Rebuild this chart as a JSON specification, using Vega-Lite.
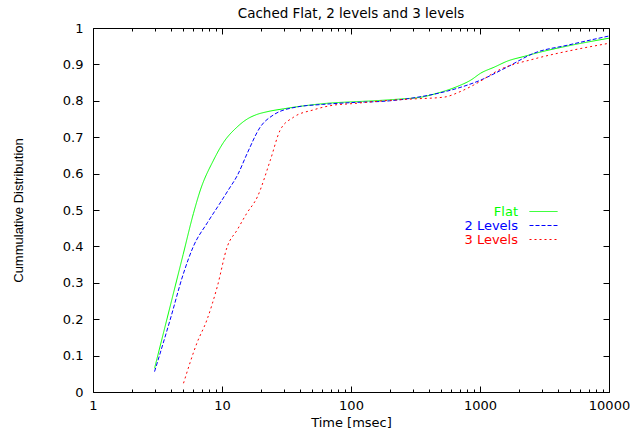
{
  "$schema": "https://vega.github.io/schema/vega-lite/v6.json",
  "width": 516,
  "height": 364,
  "autosize": {"type": "none"},
  "padding": {"left": 93, "top": 28, "right": 21, "bottom": 38},
  "background": "white",
  "config": {
    "view": {"stroke": "black", "strokeWidth": 1},
    "font": "DejaVu Sans",
    "axis": {
      "domain": false,
      "grid": false,
      "labelFont": "DejaVu Sans",
      "labelFontSize": 13,
      "labelColor": "black",
      "tickColor": "black",
      "tickWidth": 1,
      "titleFont": "DejaVu Sans",
      "titleFontSize": 13,
      "titleFontWeight": "normal",
      "titleColor": "black"
    }
  },
  "title": {
    "text": "Cached Flat, 2 levels and 3 levels",
    "font": "DejaVu Sans",
    "fontSize": 13.5,
    "fontWeight": "normal",
    "color": "black",
    "offset": -9,
    "baseline": "alphabetic"
  },
  "data": {
    "values": [
      {"t": 3, "p": 0.065, "s": "Flat"},
      {"t": 4, "p": 0.241, "s": "Flat"},
      {"t": 5, "p": 0.378, "s": "Flat"},
      {"t": 6, "p": 0.49, "s": "Flat"},
      {"t": 6.8, "p": 0.555, "s": "Flat"},
      {"t": 8.6, "p": 0.637, "s": "Flat"},
      {"t": 10.2, "p": 0.684, "s": "Flat"},
      {"t": 13.1, "p": 0.728, "s": "Flat"},
      {"t": 15.7, "p": 0.75, "s": "Flat"},
      {"t": 18.5, "p": 0.762, "s": "Flat"},
      {"t": 22.4, "p": 0.77, "s": "Flat"},
      {"t": 30, "p": 0.778, "s": "Flat"},
      {"t": 45, "p": 0.787, "s": "Flat"},
      {"t": 70, "p": 0.794, "s": "Flat"},
      {"t": 100, "p": 0.797, "s": "Flat"},
      {"t": 150, "p": 0.8, "s": "Flat"},
      {"t": 243, "p": 0.805, "s": "Flat"},
      {"t": 350, "p": 0.81, "s": "Flat"},
      {"t": 468, "p": 0.821, "s": "Flat"},
      {"t": 674, "p": 0.84, "s": "Flat"},
      {"t": 850, "p": 0.857, "s": "Flat"},
      {"t": 1014, "p": 0.876, "s": "Flat"},
      {"t": 1300, "p": 0.893, "s": "Flat"},
      {"t": 1630, "p": 0.909, "s": "Flat"},
      {"t": 2200, "p": 0.922, "s": "Flat"},
      {"t": 2950, "p": 0.934, "s": "Flat"},
      {"t": 5000, "p": 0.952, "s": "Flat"},
      {"t": 10000, "p": 0.972, "s": "Flat"},
      {"t": 3, "p": 0.056, "s": "2 Levels"},
      {"t": 3.96, "p": 0.198, "s": "2 Levels"},
      {"t": 5.03, "p": 0.326, "s": "2 Levels"},
      {"t": 6, "p": 0.4, "s": "2 Levels"},
      {"t": 7.7, "p": 0.465, "s": "2 Levels"},
      {"t": 9.5, "p": 0.515, "s": "2 Levels"},
      {"t": 11.2, "p": 0.555, "s": "2 Levels"},
      {"t": 13.2, "p": 0.596, "s": "2 Levels"},
      {"t": 15.7, "p": 0.656, "s": "2 Levels"},
      {"t": 19.8, "p": 0.728, "s": "2 Levels"},
      {"t": 25, "p": 0.761, "s": "2 Levels"},
      {"t": 38, "p": 0.783, "s": "2 Levels"},
      {"t": 60, "p": 0.79, "s": "2 Levels"},
      {"t": 100, "p": 0.795, "s": "2 Levels"},
      {"t": 200, "p": 0.8, "s": "2 Levels"},
      {"t": 330, "p": 0.81, "s": "2 Levels"},
      {"t": 562, "p": 0.827, "s": "2 Levels"},
      {"t": 1014, "p": 0.857, "s": "2 Levels"},
      {"t": 1630, "p": 0.893, "s": "2 Levels"},
      {"t": 2630, "p": 0.931, "s": "2 Levels"},
      {"t": 4800, "p": 0.953, "s": "2 Levels"},
      {"t": 10000, "p": 0.978, "s": "2 Levels"},
      {"t": 5.03, "p": 0.024, "s": "3 Levels"},
      {"t": 6.4, "p": 0.135, "s": "3 Levels"},
      {"t": 7.64, "p": 0.198, "s": "3 Levels"},
      {"t": 9.2, "p": 0.29, "s": "3 Levels"},
      {"t": 11, "p": 0.4, "s": "3 Levels"},
      {"t": 13.1, "p": 0.445, "s": "3 Levels"},
      {"t": 15.5, "p": 0.49, "s": "3 Levels"},
      {"t": 18.8, "p": 0.536, "s": "3 Levels"},
      {"t": 23.7, "p": 0.637, "s": "3 Levels"},
      {"t": 28.3, "p": 0.72, "s": "3 Levels"},
      {"t": 35.9, "p": 0.755, "s": "3 Levels"},
      {"t": 51, "p": 0.775, "s": "3 Levels"},
      {"t": 73, "p": 0.788, "s": "3 Levels"},
      {"t": 100, "p": 0.792, "s": "3 Levels"},
      {"t": 178, "p": 0.8, "s": "3 Levels"},
      {"t": 300, "p": 0.805, "s": "3 Levels"},
      {"t": 525, "p": 0.81, "s": "3 Levels"},
      {"t": 700, "p": 0.825, "s": "3 Levels"},
      {"t": 890, "p": 0.843, "s": "3 Levels"},
      {"t": 1450, "p": 0.887, "s": "3 Levels"},
      {"t": 2630, "p": 0.915, "s": "3 Levels"},
      {"t": 5370, "p": 0.94, "s": "3 Levels"},
      {"t": 10000, "p": 0.958, "s": "3 Levels"}
    ]
  },
  "layer": [
    {
      "mark": {"type": "line", "interpolate": "monotone", "strokeWidth": 1},
      "encoding": {
        "x": {
          "field": "t",
          "type": "quantitative",
          "scale": {"type": "log", "domain": [1, 10000], "nice": false},
          "axis": {
            "orient": "bottom",
            "values": [1,2,3,4,5,6,7,8,9,10,20,30,40,50,60,70,80,90,100,200,300,400,500,600,700,800,900,1000,2000,3000,4000,5000,6000,7000,8000,9000,10000],
            "labelExpr": "indexof([1,10,100,1000,10000], datum.value) >= 0 ? format(datum.value, 'd') : ''",
            "tickSize": {"condition": {"test": "indexof([1,10,100,1000,10000], datum.value) >= 0", "value": -6}, "value": -3},
            "labelPadding": 13,
            "labelOverlap": false,
            "labelFlush": false,
            "title": "Time [msec]",
            "titleX": 258,
            "titleY": 34,
            "titleBaseline": "alphabetic"
          }
        },
        "y": {
          "field": "p",
          "type": "quantitative",
          "scale": {"domain": [0, 1], "nice": false, "zero": false},
          "axis": {
            "orient": "left",
            "values": [0,0.1,0.2,0.3,0.4,0.5,0.6,0.7,0.8,0.9,1],
            "format": "~g",
            "tickSize": -6,
            "labelPadding": 16,
            "title": "Cummulative Distribution",
            "titleFont": "Liberation Sans",
            "titleX": -75,
            "titleY": 182,
            "titleBaseline": "middle"
          }
        },
        "color": {
          "field": "s",
          "type": "nominal",
          "scale": {"domain": ["Flat", "2 Levels", "3 Levels"], "range": ["#00ff00", "#0000ff", "#ff0000"]},
          "legend": {
            "orient": "none",
            "legendX": 444,
            "legendY": 177,
            "title": null,
            "symbolType": "M-3,0H3",
            "symbolSize": 87,
            "symbolStrokeWidth": 1,
            "symbolOpacity": 1,
            "rowPadding": -1,
            "padding": 0,
            "labelFont": "DejaVu Sans",
            "labelFontSize": 13,
            "encode": {
              "labels": {
                "update": {
                  "x": {"value": -19},
                  "align": {"value": "right"},
                  "fill": {"signal": "scale('color', datum.value)"}
                }
              }
            }
          }
        },
        "strokeDash": {
          "field": "s",
          "type": "nominal",
          "scale": {"domain": ["Flat", "2 Levels", "3 Levels"], "range": [[1, 0], [4, 2], [2, 3]]},
          "legend": {
            "orient": "none",
            "legendX": 444,
            "legendY": 177,
            "title": null,
            "symbolType": "M-3,0H3",
            "symbolSize": 87,
            "symbolStrokeWidth": 1,
            "symbolOpacity": 1,
            "rowPadding": -1,
            "padding": 0,
            "labelFont": "DejaVu Sans",
            "labelFontSize": 13,
            "encode": {
              "labels": {
                "update": {
                  "x": {"value": -19},
                  "align": {"value": "right"},
                  "fill": {"signal": "scale('color', datum.value)"}
                }
              }
            }
          }
        }
      }
    },
    {
      "mark": {"type": "line", "strokeWidth": 0, "stroke": "transparent"},
      "encoding": {
        "x": {
          "field": "t",
          "type": "quantitative",
          "axis": {
            "orient": "top",
            "labels": false,
            "title": null,
            "values": [1,2,3,4,5,6,7,8,9,10,20,30,40,50,60,70,80,90,100,200,300,400,500,600,700,800,900,1000,2000,3000,4000,5000,6000,7000,8000,9000,10000],
            "tickSize": {"condition": {"test": "indexof([1,10,100,1000,10000], datum.value) >= 0", "value": -6}, "value": -3}
          }
        },
        "y": {
          "field": "p",
          "type": "quantitative",
          "axis": {
            "orient": "right",
            "labels": false,
            "title": null,
            "values": [0,0.1,0.2,0.3,0.4,0.5,0.6,0.7,0.8,0.9,1],
            "tickSize": -6
          }
        }
      }
    }
  ]
}
